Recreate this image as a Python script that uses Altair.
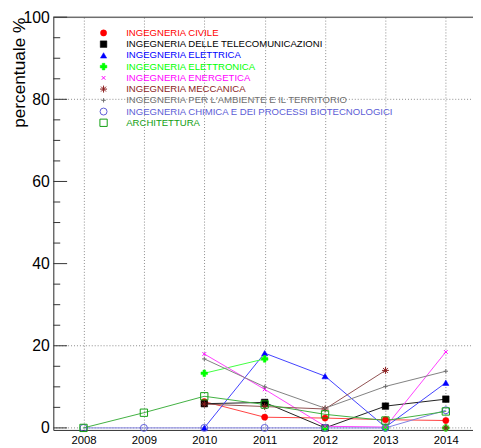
import altair as alt
import pandas as pd

years = [2008, 2009, 2010, 2011, 2012, 2013, 2014]

series_names = [
    "INGEGNERIA CIVILE",
    "INGEGNERIA DELLE TELECOMUNICAZIONI",
    "INGEGNERIA ELETTRICA",
    "INGEGNERIA ELETTRONICA",
    "INGEGNERIA ENERGETICA",
    "INGEGNERIA MECCANICA",
    "INGEGNERIA PER L'AMBIENTE E IL TERRITORIO",
    "INGEGNERIA CHIMICA E DEI PROCESSI BIOTECNOLOGICI",
    "ARCHITETTURA",
]

civile = [None, None, 6.4, 2.6, 2.4, 2.0, 1.8]
telecom = [None, None, 5.9, 6.2, 0.0, 5.3, 7.0]
elettrica = [None, None, 0.0, 18.2, 12.6, 0.2, 11.0]
elettronica = [None, None, 13.3, 16.8, None, None, None]
energetica = [None, None, 18.0, 9.4, 0.4, 0.2, 18.5]
meccanica = [None, None, 5.8, 5.2, 4.6, 14.0, None]
ambiente = [None, None, 16.8, 10.0, 4.8, 10.1, 13.8]
chimica = [0.0, 0.0, 0.0, 0.0, 0.0, 0.0, 4.3]
architettura = [0.0, 3.7, 7.7, 5.7, 3.3, 1.8, 4.0]

values = [civile, telecom, elettrica, elettronica, energetica,
          meccanica, ambiente, chimica, architettura]

# isolated markers (no connecting line)
extra_series = ["INGEGNERIA ELETTRONICA", "INGEGNERIA ELETTRONICA",
                "INGEGNERIA ELETTRONICA", "INGEGNERIA MECCANICA"]
extra_years = [2012, 2013, 2014, 2014]
extra_values = [0.0, 0.0, 0.0, 0.0]

y_major = [0, 20, 40, 60, 80, 100]
y_minor = [5, 10, 15, 25, 30, 35, 45, 50, 55, 65, 70, 75, 85, 90, 95]
y_grid = [0, 20, 80]

ASTER = "M-1,0L1,0M0,-1L0,1M-0.7,-0.7L0.7,0.7M-0.7,0.7L0.7,-0.7"
PLUS = "M-1,0L1,0M0,-1L0,1"
XMARK = "M-1,-1L1,1M-1,1L1,-1"

styles = {
    "INGEGNERIA CIVILE": dict(color="#ff0000", shape="circle", filled=True, size=40),
    "INGEGNERIA DELLE TELECOMUNICAZIONI": dict(color="#000000", shape="square", filled=True, size=45),
    "INGEGNERIA ELETTRICA": dict(color="#0000ff", shape="triangle-up", filled=True, size=40),
    "INGEGNERIA ELETTRONICA": dict(color="#00ff00", shape="cross", filled=True, size=45),
    "INGEGNERIA ENERGETICA": dict(color="#ff00ff", shape=XMARK, filled=False, size=14),
    "INGEGNERIA MECCANICA": dict(color="#8b1c1c", shape=ASTER, filled=False, size=50),
    "INGEGNERIA PER L'AMBIENTE E IL TERRITORIO": dict(color="#707070", shape=PLUS, filled=False, size=20),
    "INGEGNERIA CHIMICA E DEI PROCESSI BIOTECNOLOGICI": dict(color="#5c5cd6", shape="circle", filled=False, size=50),
    "ARCHITETTURA": dict(color="#12a012", shape="square", filled=False, size=55),
}

line_colors = {
    "INGEGNERIA CIVILE": "#ff4040",
    "INGEGNERIA DELLE TELECOMUNICAZIONI": "#202020",
    "INGEGNERIA ELETTRICA": "#4040ff",
    "INGEGNERIA ELETTRONICA": "#40ff40",
    "INGEGNERIA ENERGETICA": "#ff40ff",
    "INGEGNERIA MECCANICA": "#905050",
    "INGEGNERIA PER L'AMBIENTE E IL TERRITORIO": "#808080",
    "INGEGNERIA CHIMICA E DEI PROCESSI BIOTECNOLOGICI": "#8080e0",
    "ARCHITETTURA": "#40b040",
}

W, H = 426, 419
FONT = "Liberation Sans"

x_scale = alt.Scale(domain=[2007.5, 2014.45], nice=False, zero=False)
y_scale = alt.Scale(domain=[-0.5, 100], nice=False, zero=False)

x_enc = alt.X("year:Q", scale=x_scale,
              axis=alt.Axis(values=years, format="d", ticks=False, grid=True,
                            gridDash=[1, 2], gridColor="#8a8a8a", gridWidth=1,
                            labelFontSize=11.5, labelFont=FONT, labelColor="#000",
                            labelPadding=5, domainColor="#333333", title=None))
y_enc = alt.Y("value:Q", scale=y_scale,
              axis=alt.Axis(values=y_major, ticks=False, grid=False,
                            labelFontSize=16, labelFont=FONT, labelColor="#000",
                            labelPadding=4, domainColor="#333333",
                            title="percentuale %", titleFont=FONT, titleFontSize=17.5,
                            titleFontWeight="normal", titleColor="#000",
                            titleAngle=-90, titleX=-34, titleY=0,
                            titleAlign="right", titleBaseline="middle"))

layers = []

grid_df = pd.DataFrame({"value": y_grid})
layers.append(
    alt.Chart(grid_df).mark_rule(color="#8a8a8a", strokeDash=[1, 2], strokeWidth=1)
    .encode(y=y_enc, x=alt.value(0), x2=alt.value(W))
)

layers.append(
    alt.Chart(pd.DataFrame({"value": [100]})).mark_rule(color="#333333", strokeWidth=1)
    .encode(y=alt.Y("value:Q", scale=y_scale), x=alt.value(0), x2=alt.value(W))
)

layers.append(
    alt.Chart(pd.DataFrame({"value": y_major})).mark_rule(color="#333333", strokeWidth=1)
    .encode(y=alt.Y("value:Q", scale=y_scale), x=alt.value(0), x2=alt.value(14))
)
layers.append(
    alt.Chart(pd.DataFrame({"value": y_minor})).mark_rule(color="#333333", strokeWidth=1)
    .encode(y=alt.Y("value:Q", scale=y_scale), x=alt.value(0), x2=alt.value(7))
)

layers.append(
    alt.Chart(pd.DataFrame({"year": years, "value": [0] * len(years)}))
    .mark_point(opacity=0).encode(x=x_enc, y=alt.Y("value:Q", scale=y_scale))
)

for name, vals in zip(series_names, values):
    rows = [(yr, v) for yr, v in zip(years, vals) if v is not None]
    df = pd.DataFrame(rows, columns=["year", "value"])
    layers.append(
        alt.Chart(df).mark_line(color=line_colors[name], strokeWidth=1)
        .encode(x=alt.X("year:Q", scale=x_scale), y=alt.Y("value:Q", scale=y_scale))
    )


def point_mark(st):
    if st["filled"]:
        return dict(shape=st["shape"], filled=True, fill=st["color"], stroke=st["color"],
                    strokeWidth=0.5, size=st["size"], opacity=1)
    return dict(shape=st["shape"], filled=False, stroke=st["color"],
                strokeWidth=1, size=st["size"], opacity=1)


for name, vals in zip(series_names, values):
    rows = [(yr, v) for yr, v in zip(years, vals) if v is not None]
    rows += [(yr, v) for s, yr, v in zip(extra_series, extra_years, extra_values) if s == name]
    df = pd.DataFrame(rows, columns=["year", "value"])
    layers.append(
        alt.Chart(df).mark_point(**point_mark(styles[name]))
        .encode(x=alt.X("year:Q", scale=x_scale), y=alt.Y("value:Q", scale=y_scale))
    )

for i, name in enumerate(series_names):
    st = styles[name]
    yy = 16 + i * 11.4
    ldf = pd.DataFrame({"t": [name]})
    layers.append(
        alt.Chart(ldf).mark_point(**point_mark(st))
        .encode(x=alt.value(51), y=alt.value(yy))
    )
    layers.append(
        alt.Chart(ldf).mark_text(align="left", baseline="middle", font=FONT,
                                 fontSize=9.7, color=st["color"])
        .encode(x=alt.value(74), y=alt.value(yy), text="t:N")
    )

chart = alt.layer(*layers).properties(
    width=W, height=H,
    autosize=alt.AutoSizeParams(type="none"),
    padding={"left": 46, "top": 6, "right": 0, "bottom": 15},
).configure_view(stroke=None).configure(background="white")

chart.save("out.html", embed_options={"renderer": "svg", "actions": False})
